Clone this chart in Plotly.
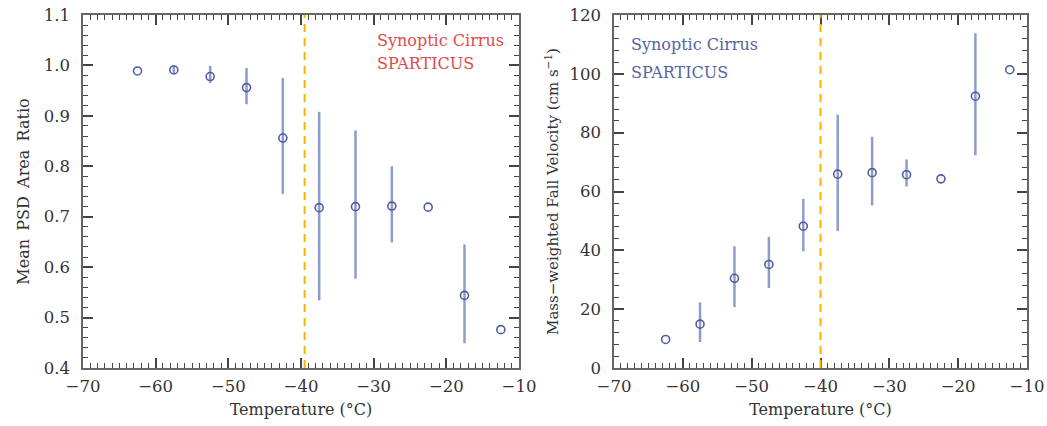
import plotly.graph_objects as go

# Temperature bins (°C)
temperature = [-62.5, -57.5, -52.5, -47.5, -42.5, -37.5, -32.5, -27.5, -22.5, -17.5, -12.5]

# Mean PSD area ratio and its spread
area_ratio = [0.989, 0.991, 0.978, 0.956, 0.856, 0.718, 0.720, 0.721, 0.719, 0.544, 0.476]
area_hi = [0.989, 1.000, 0.999, 0.995, 0.975, 0.908, 0.871, 0.800, 0.719, 0.645, 0.476]
area_lo = [0.989, 0.984, 0.965, 0.923, 0.745, 0.534, 0.577, 0.649, 0.719, 0.449, 0.476]

# Mass-weighted fall velocity (cm/s) and its spread
fall_vel = [9.7, 14.9, 30.5, 35.2, 48.2, 65.9, 66.4, 65.7, 64.3, 92.4, 101.4]
fall_hi = [9.7, 22.3, 41.4, 44.6, 57.5, 86.1, 78.6, 70.9, 64.3, 113.8, 101.4]
fall_lo = [9.7, 8.8, 20.7, 27.2, 39.7, 46.6, 55.3, 61.7, 64.3, 72.3, 101.4]

# Axis ranges
t_range = [-70, -10]
ratio_range = [0.4, 1.1]
vel_range = [0, 120]

# Homogeneous freezing threshold lines
freeze_left = -39.5
freeze_right = -40.0

FONT = "DejaVu Serif"
MARK = "#4d5d9e"
BAR = "#8e9cca"
FRAME = "#444444"
SP = "\u00a0\u2009"

fig = go.Figure()


def add_series(y, hi, lo, xa, ya):
    fig.add_trace(go.Scatter(
        x=temperature, y=y, xaxis=xa, yaxis=ya, mode="markers",
        marker=dict(symbol="circle-open", size=8, color=MARK, line=dict(width=1.6, color=MARK)),
        error_y=dict(type="data", symmetric=False,
                     array=[h - v for h, v in zip(hi, y)],
                     arrayminus=[v - l for v, l in zip(y, lo)],
                     color=BAR, thickness=2.5, width=0),
        showlegend=False, hoverinfo="x+y",
    ))


add_series(area_ratio, area_hi, area_lo, "x", "y")
add_series(fall_vel, fall_hi, fall_lo, "x2", "y2")

# Empty traces that bring the fine-tick overlay axes into being
for xa, ya, xr, yr in (("x3", "y3", t_range, ratio_range), ("x4", "y4", t_range, vel_range)):
    fig.add_trace(go.Scatter(x=[xr[0]], y=[yr[0]], xaxis=xa, yaxis=ya, mode="markers",
                             marker=dict(opacity=0), showlegend=False, hoverinfo="skip"))

axis_common = dict(
    automargin=False, layer="above traces",
    showline=True, linecolor="#666666", linewidth=1.5, mirror="ticks",
    ticks="inside", ticklen=10, tickwidth=1.5, tickcolor=FRAME,
    showgrid=False, zeroline=False,
    tickfont=dict(family=FONT, size=16.5, color="#333333"),
    title_font=dict(family=FONT, size=16, color="#333333"),
)

fine_common = dict(
    automargin=False, showline=False, mirror="ticks", layer="above traces",
    ticks="inside", ticklen=5, tickwidth=1.3, tickcolor=FRAME,
    showgrid=False, zeroline=False, showticklabels=False, tickmode="linear",
)

xaxis_cfg = dict(axis_common, range=t_range, tickmode="linear", dtick=10, tick0=-70,
                 ticklabelstandoff=2,
                 title=dict(text="Temperature (°C)", standoff=9))

L, R = 83, 20
W = 1047 - L - R
dom_left = [0, (519 - L) / W]
dom_right = [(614 - L) / W, 1]

fig.update_layout(
    width=1047, height=426,
    margin=dict(l=L, r=R, t=15, b=58),
    paper_bgcolor="white", plot_bgcolor="rgba(0,0,0,0)",
    xaxis=dict(xaxis_cfg, domain=dom_left, anchor="y"),
    xaxis2=dict(xaxis_cfg, domain=dom_right, anchor="y2"),
    yaxis=dict(axis_common, range=ratio_range, tickmode="linear", dtick=0.1, tick0=0.4,
               tickformat=".1f", ticklabelstandoff=8,
               title=dict(text=f"Mean{SP}PSD{SP}Area{SP}Ratio", standoff=10), anchor="x"),
    yaxis2=dict(axis_common, range=vel_range, tickmode="linear", dtick=20, tick0=0,
                ticklabelstandoff=8,
                title=dict(text="Mass−weighted Fall Velocity (cm s<sup>−1</sup>)",
                           standoff=7, font=dict(family=FONT, size=15, color="#333333")),
                anchor="x2"),
    # fine ticks
    xaxis3=dict(fine_common, range=t_range, dtick=1, tick0=-70, domain=dom_left,
                overlaying="x", anchor="y3"),
    yaxis3=dict(fine_common, range=ratio_range, dtick=0.02, tick0=0.4,
                overlaying="y", anchor="x3"),
    xaxis4=dict(fine_common, range=t_range, dtick=1, tick0=-70, domain=dom_right,
                overlaying="x2", anchor="y4"),
    yaxis4=dict(fine_common, range=vel_range, dtick=4, tick0=0,
                overlaying="y2", anchor="x4"),
)

# Dashed freezing-threshold lines
for xref, yref, xv in (("x", "y domain", freeze_left), ("x2", "y2 domain", freeze_right)):
    fig.add_shape(type="line", xref=xref, yref=yref, x0=xv, x1=xv, y0=0, y1=1,
                  line=dict(color="#f7b500", width=2, dash="8px,6px"))

# Panel labels
labels = [
    ("x", "y", -29.8, 1.050, 1.003, "#e04a4a"),
    ("x2", "y2", -67.8, 110.1, 100.3, "#55649f"),
]
for xref, yref, xv, ytop, ybot, color in labels:
    fig.add_annotation(x=xv, y=ytop, xref=xref, yref=yref, text="Synoptic Cirrus",
                       showarrow=False, xanchor="left", yanchor="middle",
                       font=dict(family=FONT, size=16, color=color))
    fig.add_annotation(x=xv, y=ybot, xref=xref, yref=yref, text="SPARTICUS",
                       showarrow=False, xanchor="left", yanchor="middle",
                       font=dict(family=FONT, size=16, color=color))

fig.write_html("out.html")
